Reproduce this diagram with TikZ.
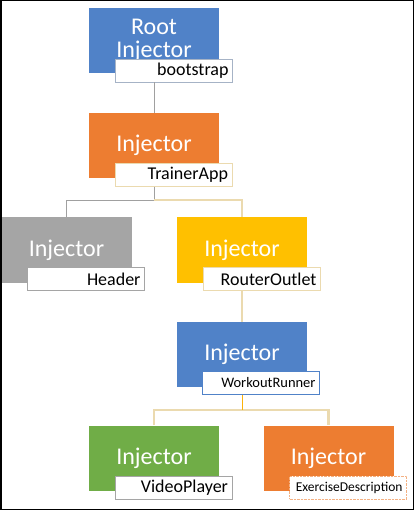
\documentclass[tikz,border=0pt]{standalone}
\usepackage{fontspec}
\setmainfont{Carlito}
\usetikzlibrary{positioning}

\definecolor{injblue}{RGB}{80,130,200}
\definecolor{injorange}{RGB}{237,125,49}
\definecolor{injgray}{RGB}{165,165,165}
\definecolor{injyellow}{RGB}{255,192,0}
\definecolor{injgreen}{RGB}{112,173,71}
\definecolor{linkgray}{RGB}{160,160,160}
\definecolor{linktan}{RGB}{235,218,175}

\tikzset{
  injbox/.style={minimum width=130pt, minimum height=65pt, inner sep=0pt,
    text=white, align=center, font=\fontsize{24}{23}\selectfont},
  tagbox/.style={draw, fill=white, minimum height=23pt, text width=109pt,
    inner xsep=4pt, inner ysep=0pt, align=right, font=\fontsize{18}{18}\selectfont},
  smalltag/.style={tagbox, font=\fontsize{14.5}{15}\selectfont},
}

\begin{document}
\begin{tikzpicture}[x=1pt, y=-1pt]
\useasboundingbox (0,0) rectangle (414,510);
% Frame
\draw[line width=1.5pt] (0.75,0.75) rectangle (413.25,509.25);
% Injector boxes
\node[injbox, fill=injblue]   at (154, 40.5)  (root)     {Root\\Injector};
\node[injbox, fill=injorange] at (154, 145.5) (trainer)  {Injector};
\node[injbox, fill=injgray]   at (66.5, 250)  (header)   {Injector};
\node[injbox, fill=injyellow] at (242, 250)   (router)   {Injector};
\node[injbox, fill=injblue]   at (242, 354.5) (worker)   {Injector};
\node[injbox, fill=injgreen]  at (154, 458)   (video)    {Injector};
\node[injbox, fill=injorange] at (328.5, 458) (exercise) {Injector};
% Component tags
\node[tagbox, draw=injblue!45!gray!60]  at (174, 70.5)   (rootlbl)     {bootstrap};
\node[tagbox, draw=linktan]             at (173.5, 175)  (trainerlbl)  {TrainerApp};
\node[tagbox, draw=injgray]             at (86, 279)     (headerlbl)   {Header};
\node[tagbox, draw=linktan, line width=1.5pt] at (262, 279) (routerlbl) {RouterOutlet};
\node[smalltag, draw=injblue]           at (261, 383)    (workerlbl)   {WorkoutRunner};
\node[tagbox, draw=injgray]             at (173.5, 487.5) (videolbl)   {VideoPlayer};
\node[smalltag, draw=injorange!60, densely dotted, font=\fontsize{13.5}{14}\selectfont]
  at (348, 487.5) (exerciselbl) {ExerciseDescription};
% Forks
\coordinate (fork1) at (154, 200);
\coordinate (fork2) at (242, 410);
% Links
\draw[linkgray] (root.south |- rootlbl.south) -- (trainer.north);
\draw[linkgray] (trainer.south |- trainerlbl.south) -- (fork1) -| (header.north);
\draw[linktan, line width=1.2pt] (fork1) -| (router.north);
\draw[linktan, line width=2.5pt] (router.south |- routerlbl.south) -- (worker.north);
\draw[linktan, line width=2.5pt] (video.north) |- (fork2) -| (exercise.north);
\draw[injyellow!80!injorange, line width=1pt] (worker.south |- workerlbl.south) -- (fork2);
\end{tikzpicture}
\end{document}
